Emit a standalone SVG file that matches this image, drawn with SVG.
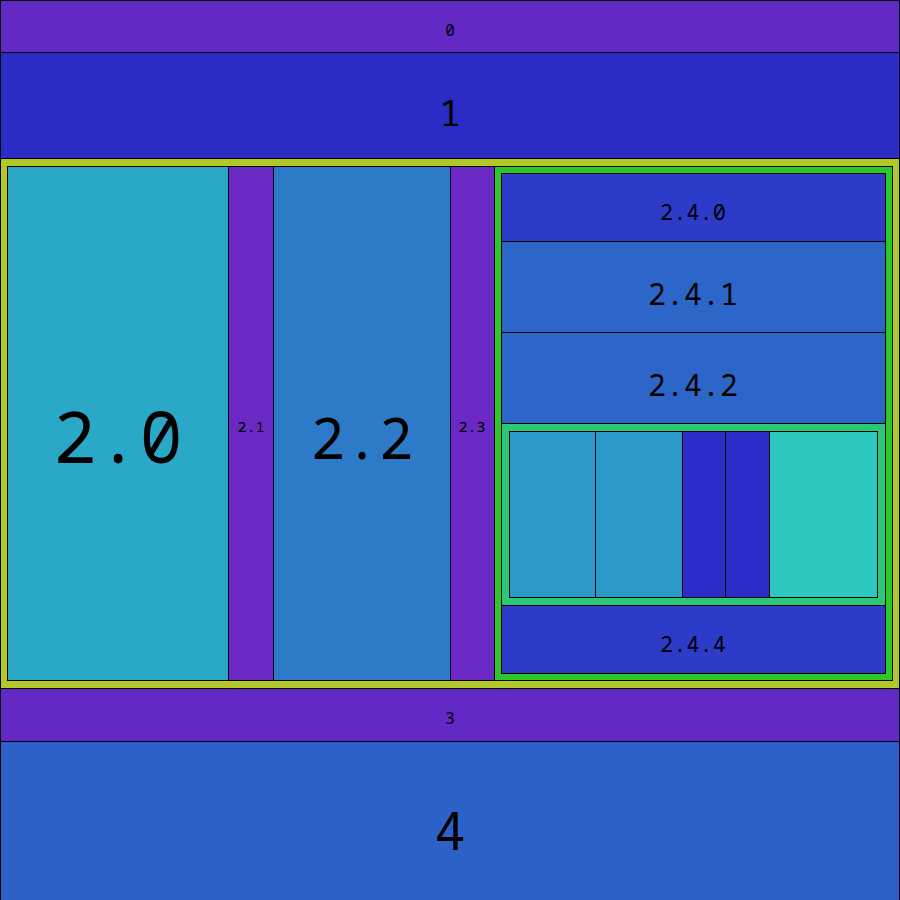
<svg xmlns="http://www.w3.org/2000/svg" width="900" height="900" viewBox="0 0 900 900">
<style>
rect{stroke:#000;stroke-width:1}
text{font-family:"Noto Sans Mono","DejaVu Sans Mono",monospace;text-anchor:middle;fill:#000}
</style>
<g id="n0"><rect x="0.5" y="0.5" width="899" height="52" fill="#6229c4"/><text x="450" y="36" font-size="16">0</text></g>
<g id="n1"><rect x="0.5" y="52.5" width="899" height="106" fill="#2b2cc6"/><text x="450" y="126" font-size="36">1</text></g>
<g id="n2"><rect x="0.5" y="158.5" width="899" height="530" fill="#b0c828"/></g>
<g id="n2_0"><rect x="7.5" y="166.5" width="221" height="514" fill="#2aa8c8"/><text x="118" y="463" font-size="72">2.0</text></g>
<g id="n2_1"><rect x="228.5" y="166.5" width="45" height="514" fill="#6a28c4"/><text x="251" y="432" font-size="15">2.1</text></g>
<g id="n2_2"><rect x="273.5" y="166.5" width="177" height="514" fill="#2c7ac8"/><text x="362" y="459" font-size="57">2.2</text></g>
<g id="n2_3"><rect x="450.5" y="166.5" width="44" height="514" fill="#6a28c4"/><text x="472" y="432" font-size="15">2.3</text></g>
<g id="n2_4"><rect x="494.5" y="166.5" width="398" height="514" fill="#2ac82a"/></g>
<g id="n2_4_0"><rect x="501.5" y="173.5" width="384" height="68" fill="#2c3cc8"/><text x="693" y="220" font-size="22">2.4.0</text></g>
<g id="n2_4_1"><rect x="501.5" y="241.5" width="384" height="91" fill="#2c66c8"/><text x="693" y="305" font-size="30">2.4.1</text></g>
<g id="n2_4_2"><rect x="501.5" y="332.5" width="384" height="91" fill="#2c66c8"/><text x="693" y="396" font-size="30">2.4.2</text></g>
<g id="n2_4_3"><rect x="501.5" y="423.5" width="384" height="182" fill="#2cc87a"/></g>
<g id="n2_4_3_0"><rect x="509.5" y="431.5" width="86" height="166" fill="#2c9ac8"/></g>
<g id="n2_4_3_1"><rect x="595.5" y="431.5" width="87" height="166" fill="#2c9ac8"/></g>
<g id="n2_4_3_2"><rect x="682.5" y="431.5" width="43" height="166" fill="#2c2cc8"/></g>
<g id="n2_4_3_3"><rect x="725.5" y="431.5" width="44" height="166" fill="#2c2cc8"/></g>
<g id="n2_4_3_4"><rect x="769.5" y="431.5" width="108" height="166" fill="#2cc8c0"/></g>
<g id="n2_4_4"><rect x="501.5" y="605.5" width="384" height="68" fill="#2c3cc8"/><text x="693" y="652" font-size="22">2.4.4</text></g>
<g id="n3"><rect x="0.5" y="688.5" width="899" height="53" fill="#6229c4"/><text x="450" y="724" font-size="16">3</text></g>
<g id="n4"><rect x="0.5" y="741.5" width="899" height="159" fill="#2c62c8"/><text x="450" y="850" font-size="52">4</text></g>
<g id="connectors"/>
</svg>
